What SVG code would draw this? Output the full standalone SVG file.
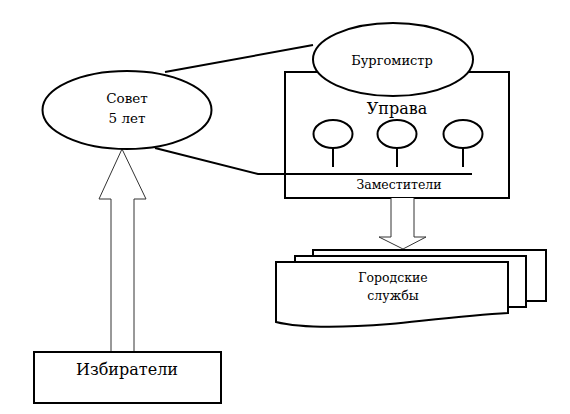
<svg xmlns="http://www.w3.org/2000/svg" width="570" height="414" viewBox="0 0 570 414">
<style>
.s{fill:#fff;stroke:#000;stroke-width:2}
.l{fill:none;stroke:#000;stroke-width:2}
.t{font-family:'DejaVu Serif',serif;fill:#000;text-anchor:middle}
.a{fill:#fff;stroke:#333;stroke-width:1}
</style>
<rect width="570" height="414" fill="#fff"/>
<g id="connectors">
<path class="l" d="M165,72 L313,45"/>
<path class="l" d="M155,148 L258,174 L472,174"/>
<path class="a" d="M111,352 L111,199 L99,199 L122,149 L146,199 L134,199 L134,352 Z"/>
</g>
<g id="uprava">
<rect class="s" x="285" y="72" width="224" height="126"/>
<path class="l" d="M258,174 L472,174"/>
<text class="t" x="397" y="114" font-size="16">Управа</text>
<text class="t" x="399" y="189" font-size="12.5">Заместители</text>
</g>
<g id="deputy1"><ellipse class="s" cx="333" cy="134" rx="19.5" ry="14"/><path class="l" d="M333,148 V167"/></g>
<g id="deputy2"><ellipse class="s" cx="397" cy="134" rx="19.5" ry="14"/><path class="l" d="M397,148 V167"/></g>
<g id="deputy3"><ellipse class="s" cx="463" cy="134" rx="19.5" ry="14"/><path class="l" d="M463,148 V167"/></g>
<g id="burgomistr">
<ellipse class="s" cx="393" cy="59.5" rx="80" ry="36.5"/>
<text class="t" x="392" y="65" font-size="13">Бургомистр</text>
</g>
<g id="sovet">
<ellipse class="s" cx="127" cy="110" rx="84.5" ry="39"/>
<text class="t" x="127" y="103" font-size="13.5">Совет</text>
<text class="t" x="127" y="123" font-size="13.5">5 лет</text>
</g>
<g id="down-arrow">
<path class="a" d="M391,198 L391,237 L379,237 L403,249 L426,237 L414,237 L414,198"/>
</g>
<g id="services">
<rect class="s" x="313" y="250" width="233" height="51"/>
<rect class="s" x="295" y="256" width="231" height="51"/>
<path class="s" d="M276,322 L276,262 L508,262 L508,313 C470,315 430,320 390,324 C340,328 300,328 276,322 Z"/>
<text class="t" x="393" y="282" font-size="12.5">Городские</text>
<text class="t" x="393" y="300" font-size="12.5">службы</text>
</g>
<g id="izbirateli">
<rect class="s" x="34" y="352" width="187" height="51"/>
<text class="t" x="127" y="375" font-size="16">Избиратели</text>
</g>
</svg>
